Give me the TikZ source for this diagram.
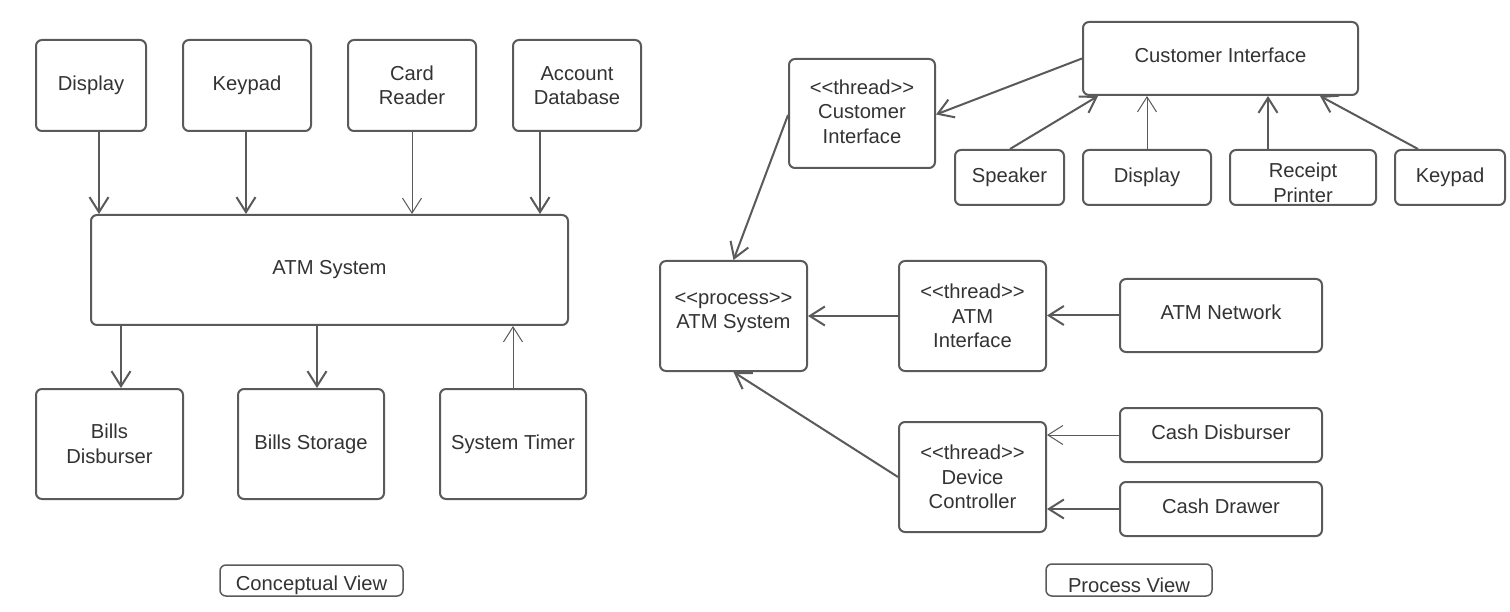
\documentclass[tikz,border=0pt]{standalone}
\usepackage{fontspec}
\setmainfont{Liberation Sans}[Ligatures=TeXOff]
\usetikzlibrary{arrows.meta}
\definecolor{lc}{HTML}{5A5A5A}
\definecolor{tc}{HTML}{333333}
\begin{document}
\begin{tikzpicture}[x=1pt,y=-1pt,
  txt/.style={text=tc,font=\fontsize{20.2}{24.5}\selectfont,align=center,inner sep=0pt},
  box/.style={txt,draw=lc,line width=2pt,rounded corners=6pt,fill=white},
  arr/.style={draw=lc,line width=2pt,-{Straight Barb[length=15pt,width=19pt]}},
  tarr/.style={arr,line width=1pt}]
\useasboundingbox[fill=white] (0,0) rectangle (1510,612);
% ---------------- Conceptual view ----------------
\node[box,minimum width=110,minimum height=91] (disp) at (91,85.5) {Display};
\node[box,minimum width=128,minimum height=91] (keyp) at (247,85.5) {Keypad};
\node[box,minimum width=128,minimum height=91] (card) at (412,85.5) {Card\\Reader};
\node[box,minimum width=128,minimum height=91] (acct) at (577,85.5) {Account\\Database};
\node[box,minimum width=477,minimum height=110] (atm) at (329.5,270) {ATM System};
\node[box,minimum width=147,minimum height=110] (bdisb) at (109.5,444) {Bills\\Disburser};
\node[box,minimum width=146,minimum height=110] (bstor) at (311,444) {Bills Storage};
\node[box,minimum width=146,minimum height=110] (stimer) at (513,444) {System Timer};
\node[box,line width=1.5pt,minimum width=183,minimum height=31,label={[txt,yshift=-5pt]center:Conceptual View}] (cv) at (311.5,580.5) {};

\draw[arr] ([xshift=8pt]disp.south) -- ([xshift=8pt]disp.south |- atm.north);
\draw[arr] ([xshift=-1pt]keyp.south) -- ([xshift=-1pt]keyp.south |- atm.north);
\draw[tarr] (card.south) -- (card.south |- atm.north);
\draw[arr] ([xshift=-37pt]acct.south) -- ([xshift=-37pt]acct.south |- atm.north);
\draw[arr] ([xshift=11.5pt]bdisb.north |- atm.south) -- ([xshift=11.5pt]bdisb.north);
\draw[arr] ([xshift=6pt]bstor.north |- atm.south) -- ([xshift=6pt]bstor.north);
\draw[tarr] (stimer.north) -- (stimer.north |- atm.south);

% ---------------- Process view ----------------
\node[box,minimum width=146,minimum height=109,label={[txt,yshift=2pt]center:<<thread>>\\Customer\\Interface}] (tci) at (862,113.5) {};
\node[box,minimum width=275,minimum height=73,label={[txt,yshift=3.5pt]center:Customer Interface}] (ci) at (1220.5,58.5) {};
\node[box,minimum width=109,minimum height=55] (spk) at (1009.5,177.5) {Speaker};
\node[box,minimum width=128,minimum height=55] (disp2) at (1147,177.5) {Display};
\node[box,minimum width=146,minimum height=55,label={[txt,yshift=-5.5pt]center:Receipt\\Printer}] (rp) at (1303,177.5) {};
\node[box,minimum width=110,minimum height=55] (kp2) at (1450,177.5) {Keypad};
\node[box,minimum width=147,minimum height=110,label={[txt,yshift=3.5pt]center:<<process>>\\ATM System}] (proc) at (733.5,316) {};
\node[box,minimum width=147,minimum height=110] (tai) at (972.5,316) {<<thread>>\\ATM\\Interface};
\node[box,minimum width=202,minimum height=73,label={[txt,yshift=3.5pt]center:ATM Network}] (net) at (1221,315.5) {};
\node[box,minimum width=147,minimum height=110] (tdc) at (972.5,477) {<<thread>>\\Device\\Controller};
\node[box,minimum width=202,minimum height=54,label={[txt,yshift=2.5pt]center:Cash Disburser}] (cdisb) at (1221,435) {};
\node[box,minimum width=202,minimum height=54,label={[txt,yshift=2.5pt]center:Cash Drawer}] (cdraw) at (1221,509) {};
\node[box,line width=1.5pt,minimum width=166,minimum height=32,label={[txt,yshift=-5pt]center:Process View}] (pv) at (1129,580) {};

\draw[arr] (ci.west) -- ([yshift=-1pt]tci.east);
\draw[arr] ([xshift=0.5pt]spk.north) -- ([xshift=-122.5pt]ci.south);
\draw[tarr] (disp2.north) -- (disp2.north |- ci.south);
\draw[arr] ([xshift=-35pt]rp.north) -- ([xshift=-35pt]rp.north |- ci.south);
\draw[arr] ([xshift=-32pt]kp2.north) -- ([xshift=99.5pt]ci.south);
\draw[arr] ([yshift=-1.5pt]tci.west) -- (proc.north);
\draw[arr] (tai.west) -- (proc.east);
\draw[arr] (net.west) -- (net.west -| tai.east);
\draw[tarr] (cdisb.west) -- (cdisb.west -| tdc.east);
\draw[arr] (cdraw.west) -- (cdraw.west -| tdc.east);
\draw[arr] (tdc.west) -- (proc.south);
\end{tikzpicture}
\end{document}
